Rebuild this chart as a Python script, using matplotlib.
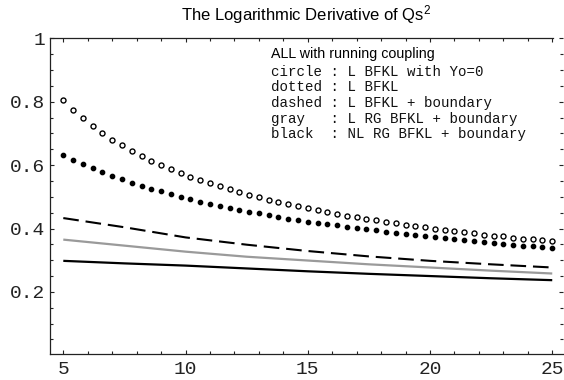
import numpy as np
import matplotlib
matplotlib.use("Agg")
import matplotlib.pyplot as plt
from matplotlib.ticker import MultipleLocator, FixedLocator

plt.rcParams['mathtext.fontset'] = 'custom'
plt.rcParams['mathtext.rm'] = 'Liberation Sans'
plt.rcParams['mathtext.it'] = 'Liberation Sans'

# rapidity grid of the point series (step 0.4)
y_pts = np.arange(51) * 0.4 + 5.0

# circle : L BFKL with Yo=0
circle = [0.806, 0.774, 0.748, 0.724, 0.701, 0.681, 0.663, 0.645, 0.628, 0.613,
          0.600, 0.587, 0.575, 0.564, 0.552, 0.543, 0.533, 0.524, 0.515, 0.507,
          0.499, 0.491, 0.484, 0.478, 0.471, 0.465, 0.458, 0.452, 0.446, 0.441,
          0.437, 0.430, 0.426, 0.422, 0.417, 0.412, 0.408, 0.404, 0.400, 0.396,
          0.392, 0.388, 0.385, 0.381, 0.378, 0.375, 0.371, 0.368, 0.366, 0.363,
          0.360]

# dotted : L BFKL
dotted = [0.632, 0.617, 0.603, 0.590, 0.578, 0.566, 0.555, 0.545, 0.535, 0.526,
          0.518, 0.509, 0.501, 0.492, 0.485, 0.479, 0.472, 0.465, 0.459, 0.453,
          0.448, 0.443, 0.437, 0.431, 0.427, 0.422, 0.417, 0.414, 0.410, 0.405,
          0.402, 0.398, 0.395, 0.390, 0.387, 0.384, 0.381, 0.378, 0.373, 0.369,
          0.366, 0.363, 0.360, 0.357, 0.354, 0.351, 0.349, 0.346, 0.344, 0.342,
          0.339]

# smooth curves
y_line = [5, 7.5, 10, 12.5, 15, 17.5, 20, 22.5, 25]
dashed = [0.433, 0.404, 0.372, 0.349, 0.329, 0.312, 0.298, 0.287, 0.277]
gray = [0.365, 0.346, 0.327, 0.311, 0.299, 0.287, 0.277, 0.267, 0.258]
black = [0.298, 0.290, 0.283, 0.274, 0.265, 0.257, 0.250, 0.243, 0.237]

legend_head = "ALL with running coupling"
legend_rows = ["circle : L BFKL with Yo=0",
               "dotted : L BFKL",
               "dashed : L BFKL + boundary",
               "gray   : L RG BFKL + boundary",
               "black  : NL RG BFKL + boundary"]

W, H = 564, 380
fig = plt.figure(figsize=(W / 100, H / 100), dpi=100)
ax = fig.add_axes([50 / W, (H - 354.3) / H, (563 - 50) / W, (354.3 - 37.5) / H])

ax.plot(y_line, black, color='black', lw=1.6, solid_capstyle='butt')
ax.plot(y_line, gray, color='#9a9a9a', lw=1.6, solid_capstyle='butt')
ax.plot(y_line, dashed, color='black', lw=1.5, dashes=(7.5, 3.3), dash_capstyle='butt')
ax.plot(y_pts, dotted, ls='none', marker='o', ms=3.1, color='black')
ax.plot(y_pts, circle, ls='none', marker='o', ms=3.6, mfc='white', mec='black', mew=1.0)

ax.set_xlim(4.456, 25.44)
ax.set_ylim(0.003, 1.003)

ax.xaxis.set_major_locator(FixedLocator([5, 10, 15, 20, 25]))
ax.xaxis.set_minor_locator(MultipleLocator(1))
ax.yaxis.set_major_locator(FixedLocator([0.2, 0.4, 0.6, 0.8, 1.0]))
ax.yaxis.set_minor_locator(MultipleLocator(0.05))
ax.set_yticklabels(['0.2', '0.4', '0.6', '0.8', '1'])

ax.tick_params(which='both', direction='in', top=True, right=True, width=0.8, color='#222222')
ax.tick_params(which='major', length=3.2)
ax.tick_params(which='minor', length=2.0)
ax.tick_params(axis='y', pad=3.5)
ax.tick_params(axis='x', pad=5)
for lab in ax.get_xticklabels() + ax.get_yticklabels():
    lab.set_family('Liberation Mono')
    lab.set_fontsize(14)
    lab.set_color('#222222')

for s in ax.spines.values():
    s.set_linewidth(0.9)
    s.set_color('#222222')
ax.spines['right'].set_visible(False)
ax.spines['top'].set_bounds(4.456, 25.05)

fig.text(306 / W, 1 - 15 / H, r'The Logarithmic Derivative of Qs$^2$',
         family='Liberation Sans', fontsize=12, ha='center', va='center')

fig.text(270.7 / W, 1 - 54 / H, legend_head, family='Liberation Sans',
         fontsize=10.3, ha='left', va='center')
for i, row in enumerate(legend_rows):
    fig.text(270.7 / W, 1 - (71.7 + 15.6 * i) / H, row, family='Liberation Mono',
             fontsize=10.2, ha='left', va='center', color='#111111')

fig.savefig('out.png', dpi=100)
